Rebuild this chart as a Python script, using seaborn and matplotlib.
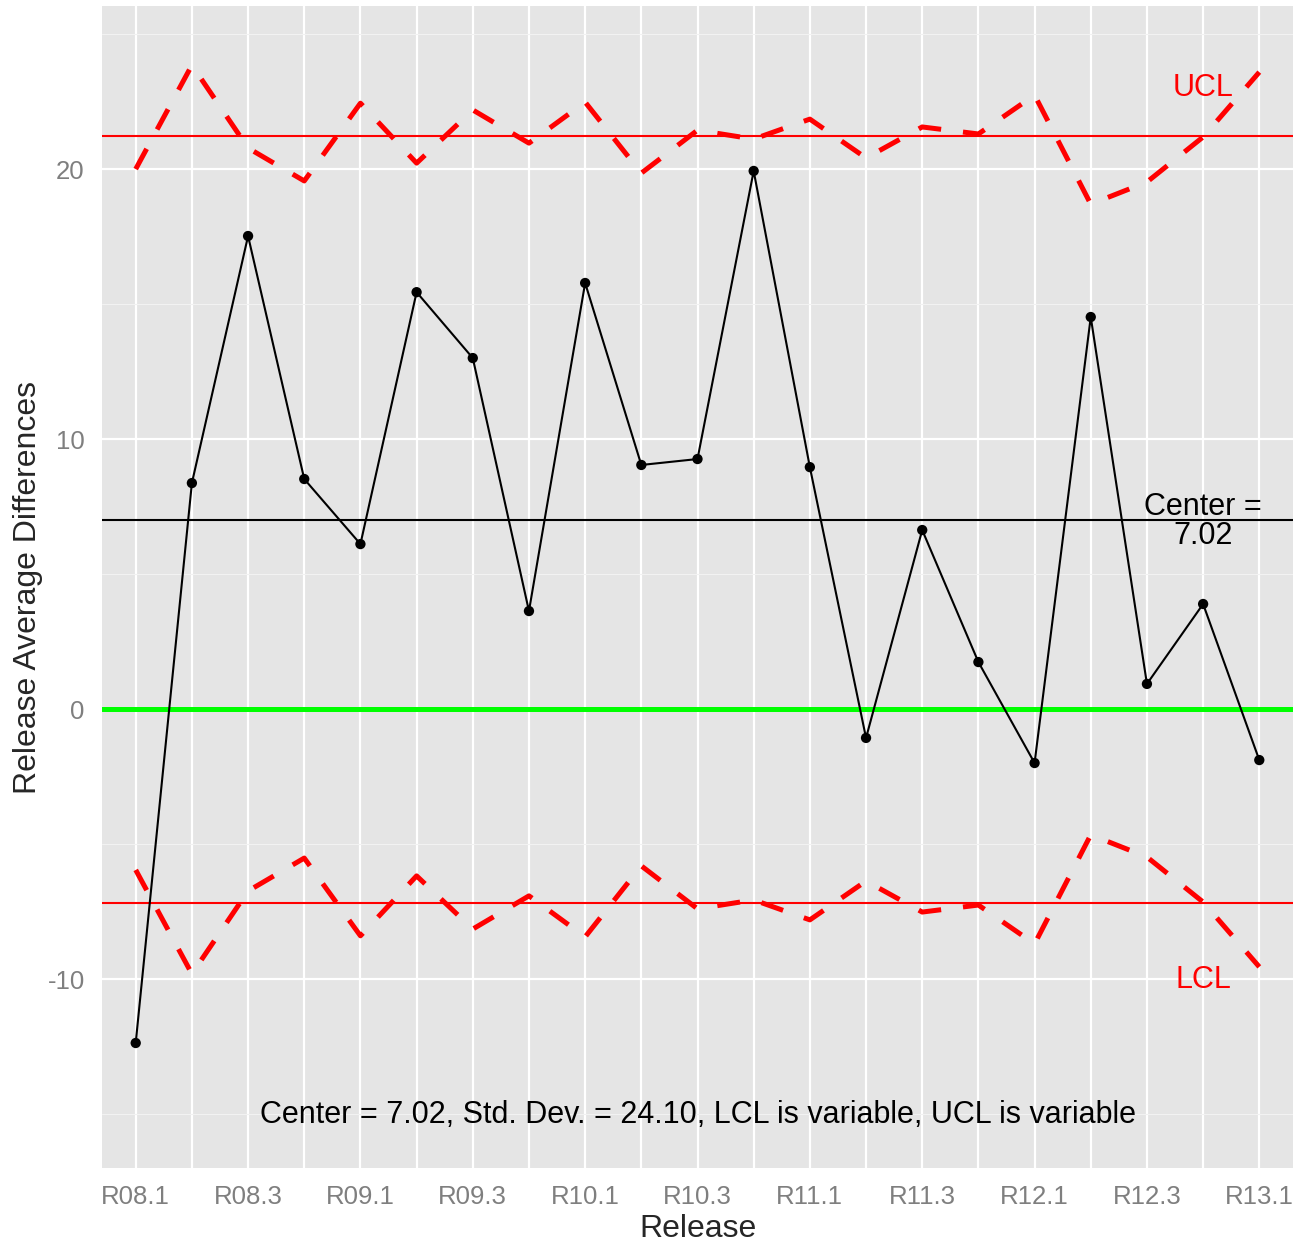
"""Release control chart (ggplot-like look) with seaborn."""
import matplotlib
matplotlib.use("Agg")
import matplotlib.pyplot as plt
import seaborn as sns
import pandas as pd
import numpy as np

# ---- data ----
releases = ["R08.1", "R08.2", "R08.3", "R08.4", "R09.1", "R09.2", "R09.3",
            "R09.4", "R10.1", "R10.2", "R10.3", "R10.4", "R11.1", "R11.2",
            "R11.3", "R11.4", "R12.1", "R12.2", "R12.3", "R12.4", "R13.1"]
avg_diff = [-12.37, 8.37, 17.52, 8.52, 6.11, 15.44, 13.00, 3.63, 15.78, 9.04,
            9.26, 19.93, 8.96, -1.07, 6.63, 1.74, -2.00, 14.52, 0.93, 3.89, -1.89]
ucl_var = [20.00, 23.85, 20.78, 19.56, 22.44, 20.22, 22.19, 20.96, 22.48, 19.85,
           21.44, 21.11, 21.85, 20.41, 21.56, 21.30, 22.74, 18.70, 19.52, 21.19, 23.59]
lcl_var = [-5.96, -9.81, -6.74, -5.52, -8.40, -6.18, -8.15, -6.92, -8.44, -5.81,
           -7.40, -7.07, -7.81, -6.37, -7.52, -7.26, -8.70, -4.66, -5.48, -7.15, -9.55]
center = 7.02
std_dev = 24.10
ucl_avg = 21.22
lcl_avg = -7.18

df = pd.DataFrame({"Release": releases, "pos": np.arange(len(releases)),
                   "diff": avg_diff, "ucl": ucl_var, "lcl": lcl_var})

# ---- style ----
sns.set_theme(style="darkgrid", rc={
    "axes.facecolor": "#E5E5E5",
    "grid.color": "white",
})
plt.rcParams["font.family"] = ["Liberation Sans", "DejaVu Sans"]
plt.rcParams["axes.unicode_minus"] = False

fig = plt.figure(figsize=(12.97, 12.43), dpi=100)
ax = fig.add_axes([102 / 1297, 1 - 1168 / 1243, 1191 / 1297, 1162 / 1243])

# grid: major + minor like ggplot
ax.set_yticks([-10, 0, 10, 20])
ax.set_yticks([-15, -5, 5, 15, 25], minor=True)
ax.grid(which="major", axis="both", color="white", linewidth=1.6)
ax.grid(which="minor", axis="y", color="#F2F2F2", linewidth=0.8)
ax.set_axisbelow(True)

# reference lines
ax.axhline(0, color="#00FF00", linewidth=3.6, zorder=2)
ax.axhline(center, color="black", linewidth=1.5, zorder=2)
ax.axhline(ucl_avg, color="red", linewidth=1.5, zorder=2)
ax.axhline(lcl_avg, color="red", linewidth=1.5, zorder=2)

# variable control limits
for col in ["ucl", "lcl"]:
    sns.lineplot(data=df, x="pos", y=col, ax=ax, color="red", linewidth=3.6,
                 estimator=None, sort=False, zorder=3)
for line in ax.lines[-2:]:
    line.set_dashes((4.6, 4.4))
    line.set_dash_capstyle("butt")

sns.lineplot(data=df, x="pos", y="diff", ax=ax, color="black", linewidth=1.5,
             estimator=None, sort=False, zorder=4)
sns.scatterplot(data=df, x="pos", y="diff", ax=ax, color="black", s=55,
                edgecolor="none", zorder=5)

# annotations
last = len(releases) - 2
ax.text(last, 23.0, "UCL", color="red", fontsize=22, ha="center", va="center")
ax.text(last, -10.05, "LCL", color="red", fontsize=22, ha="center", va="center")
ax.text(last, 6.95, "Center =\n7.02", color="black", fontsize=22,
        ha="center", va="center", linespacing=0.95)
ax.text(10, -15.05,
        f"Center = {center:.2f}, Std. Dev. = {std_dev:.2f}, "
        "LCL is variable, UCL is variable",
        color="black", fontsize=22, ha="center", va="center")

# axes
ax.set_xlim(-0.6, len(releases) - 0.4)
ax.set_ylim(-17.0, 26.04)
ax.set_xticks(df["pos"])
ax.set_xticklabels([r if i % 2 == 0 else "" for i, r in enumerate(releases)])
ax.tick_params(axis="both", which="major", length=7.5, width=1.6, color="#7F7F7F",
               labelcolor="#7F7F7F", labelsize=18.5, pad=5)
ax.tick_params(axis="both", which="minor", length=0)
for s in ax.spines.values():
    s.set_visible(False)
ax.set_xlabel("Release", fontsize=23, labelpad=3)
ax.set_ylabel("Release Average Differences", fontsize=23, labelpad=3)

fig.savefig("out.png", dpi=100)
